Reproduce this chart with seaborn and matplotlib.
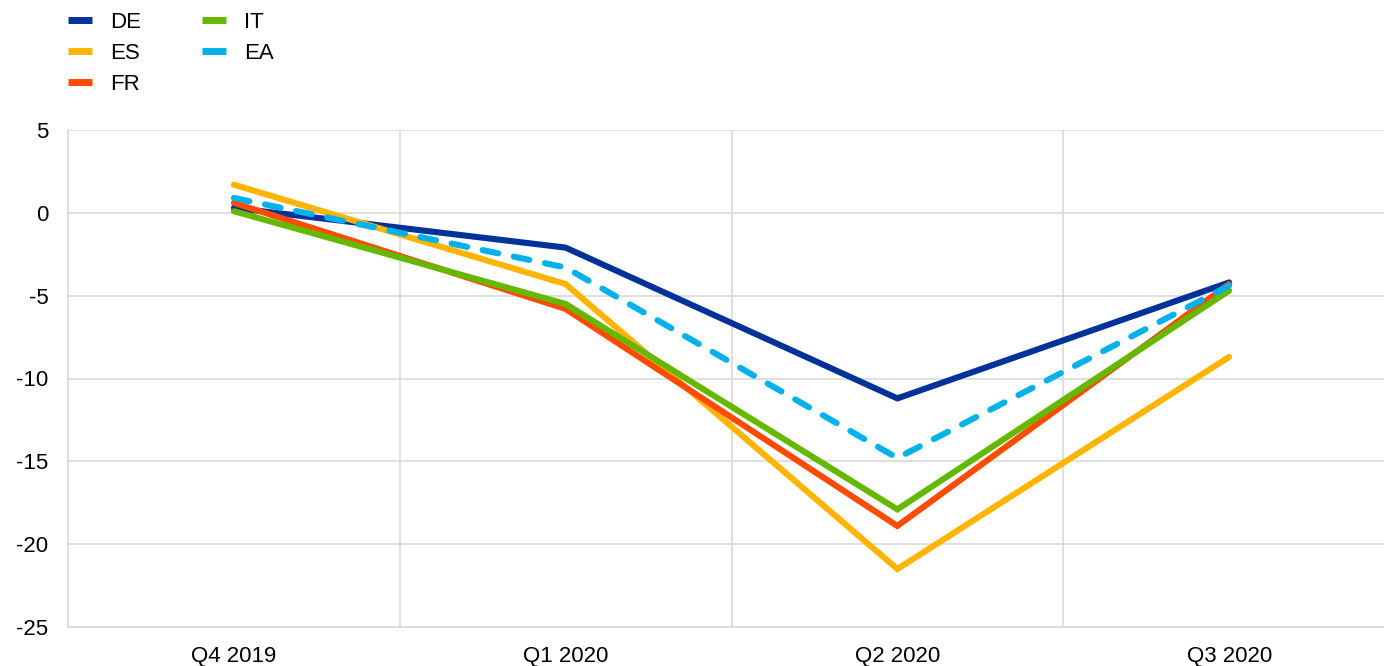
import pandas as pd
import seaborn as sns
import matplotlib.pyplot as plt
from matplotlib.lines import Line2D
from matplotlib.ticker import FixedLocator

quarters = ["Q4 2019", "Q1 2020", "Q2 2020", "Q3 2020"]
countries = ["DE", "ES", "FR", "IT", "EA"]
de = [0.3, -2.1, -11.2, -4.2]
es = [1.7, -4.3, -21.5, -8.7]
fr = [0.6, -5.8, -18.9, -4.3]
it = [0.1, -5.5, -17.9, -4.7]
ea = [0.9, -3.3, -14.8, -4.4]
colors = ["#003299", "#FFB400", "#FF4B00", "#65B800", "#00B1EA"]

sns.set_style("white")
plt.rcParams["font.family"] = ["Liberation Sans", "DejaVu Sans"]
plt.rcParams["axes.unicode_minus"] = False

rows = []
for name, vals in zip(countries, [de, es, fr, it, ea]):
    for i, (q, v) in enumerate(zip(quarters, vals)):
        rows.append({"country": name, "pos": i, "quarter": q, "value": v})
df = pd.DataFrame(rows)

fig = plt.figure(figsize=(13.84, 6.66), dpi=100)
ax = fig.add_axes([68 / 1384, 39 / 666, 1327 / 1384, 497 / 666])

sns.lineplot(
    data=df, x="pos", y="value", hue="country", style="country",
    hue_order=countries, style_order=countries,
    palette=dict(zip(countries, colors)),
    dashes={"DE": "", "ES": "", "FR": "", "IT": "", "EA": (2.6, 2.6)},
    linewidth=4.4, ax=ax, legend=False,
)
for line in ax.get_lines():
    line.set_solid_capstyle("round")
    line.set_dash_capstyle("round")
    line.set_solid_joinstyle("miter")

ax.set_xlim(-0.5, 3.5)
ax.set_ylim(-25, 5)
ax.set_yticks(range(-25, 6, 5))
ax.set_xticks(range(len(quarters)))
ax.set_xticklabels(quarters)
ax.xaxis.set_minor_locator(FixedLocator([0.5, 1.5, 2.5]))
ax.grid(axis="y", which="major", color="#d9d9d9", linewidth=1.2)
ax.grid(axis="x", which="minor", color="#d9d9d9", linewidth=1.2)
ax.set_axisbelow(True)
ax.tick_params(axis="both", which="both", length=0, labelsize=16, colors="#000000")
ax.tick_params(axis="y", pad=14)
ax.tick_params(axis="x", pad=14)
ax.set_xlabel("")
ax.set_ylabel("")
for side in ["top", "right"]:
    ax.spines[side].set_visible(False)
ax.spines["left"].set_color("#d9d9d9")
ax.spines["left"].set_linewidth(1.2)
ax.spines["bottom"].set_color("#d9d9d9")
ax.spines["bottom"].set_linewidth(1.2)

# legend uses plain solid swatches, even for EA
handles = [Line2D([], [], color=c, linewidth=5, solid_capstyle="butt") for c in colors]
ax.legend(
    handles, countries, ncol=2, loc="upper left",
    bbox_to_anchor=(48 / 1384, 1 + 8 / 666), bbox_transform=fig.transFigure,
    frameon=False, fontsize=16, handlelength=1.08, handletextpad=0.82,
    columnspacing=2.73, labelspacing=0.45, labelcolor="#000000",
)

fig.savefig("out.png", dpi=100)
